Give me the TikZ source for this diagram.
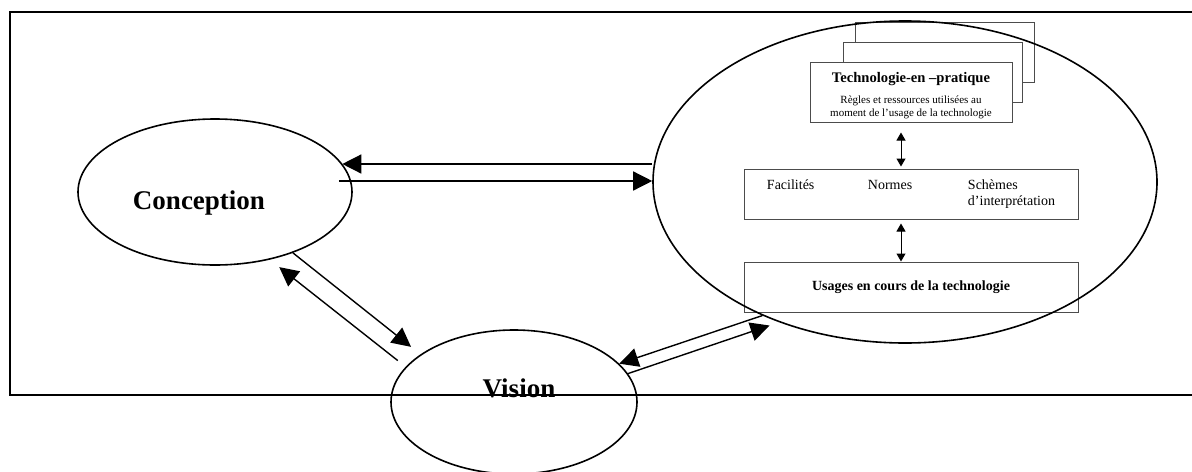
\documentclass[tikz,border=0pt]{standalone}
\usepackage{fontspec}
\setmainfont{Liberation Serif}
\usetikzlibrary{shapes.geometric,arrows.meta}

\begin{document}
\begin{tikzpicture}[x=0.5pt, y=-0.5pt,
	oval/.style={ellipse, draw, line width=0.8pt, inner sep=0pt},
	box/.style={rectangle, draw=black!70, line width=0.5pt, fill=white, inner sep=0pt},
	bigname/.style={node font=\fontsize{13.5}{16}\selectfont\bfseries},
	bigarrow/.style={line width=0.7pt, -{Triangle[length=9.5pt,width=9.5pt]}},
	smallarrow/.style={line width=0.5pt, {Triangle[length=4pt,width=4.5pt]}-{Triangle[length=4pt,width=4.5pt]}}]
	\path[use as bounding box, clip] (0,0) rectangle (1192,471);
	\node[oval, minimum width=137pt, minimum height=73pt, label={[bigname, xshift=-8pt, yshift=-5.5pt]center:Conception}] (conception) at (215,192) {};
	\node[oval, minimum width=123pt, minimum height=72pt, label={[bigname, xshift=2.5pt, yshift=7pt]center:Vision}] (vision) at (514,402) {};
	% pile de cadres
	\node[box, minimum width=89.5pt, minimum height=30pt] (stackb) at (944.5,52) {};
	\node[box, minimum width=89.5pt, minimum height=30pt] (stacka) at (932.5,72) {};
	\node[box, minimum width=101pt, minimum height=30pt, align=center, node font=\fontsize{5.5}{6.5}\selectfont, anchor=north east] (tech) at ([xshift=-5pt, yshift=-10pt]stacka.north east)
		{\rule{0pt}{9pt}\fontsize{7.3}{9}\selectfont\bfseries Technologie-en –pratique\\[4pt]
		Règles et ressources utilisées au\\
		moment de l’usage de la technologie};
	\node[box, minimum width=167pt, minimum height=25pt, node font=\fontsize{7}{8}\selectfont] (facil) at (911,194)
		{\begin{tabular}{@{}p{50.5pt}@{}p{50pt}@{}l@{}}Facilités & Normes & Schèmes\\ & & d’interprétation\end{tabular}};
	\node[box, minimum width=167pt, minimum height=25pt, node font=\fontsize{7}{8}\selectfont\bfseries] (usages) at (911,287) {Usages en cours de la technologie};
	\node[oval, minimum width=252pt, minimum height=161pt] (practice) at (905,182) {};
	\draw[bigarrow] ([yshift=9pt]practice.west) -- ([xshift=-5.25pt, yshift=14pt]conception.east);
	\draw[bigarrow] ([xshift=-7pt, yshift=5.5pt]conception.east) -- ([yshift=0.5pt]practice.west);
	\draw[bigarrow, shorten >=6pt] (conception.-38) -- (vision.153);
	\draw[bigarrow, shorten <=5pt, shorten >=6pt] (vision.162.6) -- (conception.-51.6);
	\draw[bigarrow] ([xshift=9.5pt, yshift=-1.5pt]usages.south west) -- (vision.20.4);
	\draw[bigarrow] (vision.14.5) -- ([xshift=13pt, yshift=-6.5pt]usages.south west);
	\draw[smallarrow] ([xshift=-5pt, yshift=-5pt]tech.south) -- ([xshift=-5pt, yshift=1pt]facil.north);
	\draw[smallarrow] ([xshift=-5pt, yshift=-2pt]facil.south) -- ([xshift=-5pt]usages.north);
	\draw[line width=1pt] (10,12) rectangle (1200,395);
\end{tikzpicture}
\end{document}
